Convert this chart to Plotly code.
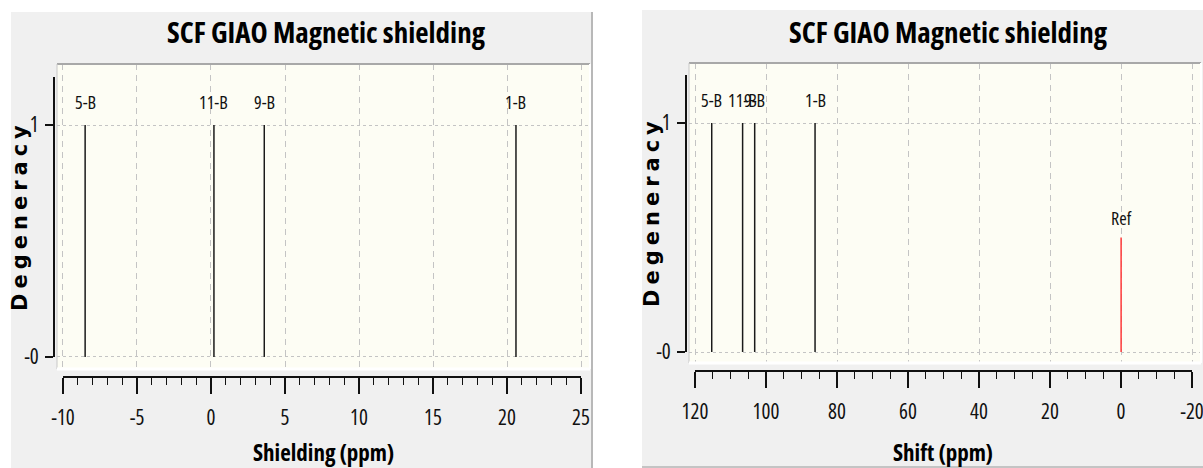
import plotly.graph_objects as go

# Figure size in pixels
W, H = 1203, 468

# Computed boron peaks
peak_labels = ["5-B", "11-B", "9-B", "1-B"]
shielding_ppm = [-8.5, 0.2, 3.6, 20.6]
shift_ppm = [115.3, 106.6, 103.2, 86.2]
degeneracy = [1, 1, 1, 1]

# Reference marker on the shift scale
ref_label = "Ref"
ref_shift_ppm = [0.0]
ref_height = [0.5]

# Axis ticks and labels
shield_ticks = [-10, -5, 0, 5, 10, 15, 20, 25]
shield_tick_labels = ["-10", "-5", "0", "5", "10", "15", "20", "25"]
shift_ticks = [120, 100, 80, 60, 40, 20, 0, -20]
shift_tick_labels = ["120", "100", "80", "60", "40", "20", "0", "-20"]
y_ticks = [0, 1]
y_tick_labels = ["-0", "1"]

FAM = "Open Sans"
WIDE_BOLD = "DejaVu Sans, Verdana, sans-serif"
INK = "#111111"
GRID = "#c4c4c4"
CREAM = "#fdfdf4"
PANEL = "#f0f0f0"


def narrow(text):
    return f'<span style="font-stretch:75%">{text}</span>'


def fx(px):
    return px / W


def fy(py):
    return 1 - py / H


def stems(xvals, heights):
    xs, ys = [], []
    for v, h in zip(xvals, heights):
        xs += [v, v, None]
        ys += [0, h, None]
    return xs, ys


fig = go.Figure()

# Left spectrum: shielding
sx, sy = stems(shielding_ppm, degeneracy)
fig.add_trace(go.Scatter(x=sx, y=sy, mode="lines", xaxis="x", yaxis="y",
                         line=dict(color="#1a1a1a", width=1.5),
                         hoverinfo="skip", showlegend=False))
# empty trace so the left ruler axes are drawn
fig.add_trace(go.Scatter(x=[], y=[], xaxis="x2", yaxis="y2", showlegend=False))

# Right spectrum: shift
tx, ty = stems(shift_ppm, degeneracy)
fig.add_trace(go.Scatter(x=tx, y=ty, mode="lines", xaxis="x3", yaxis="y3",
                         line=dict(color="#1a1a1a", width=1.5),
                         hoverinfo="skip", showlegend=False))
rx, ry = stems(ref_shift_ppm, ref_height)
fig.add_trace(go.Scatter(x=rx, y=ry, mode="lines", xaxis="x3", yaxis="y3",
                         line=dict(color="#ff3b3b", width=1.5),
                         hoverinfo="skip", showlegend=False))
fig.add_trace(go.Scatter(x=[], y=[], xaxis="x4", yaxis="y4", showlegend=False))

grid_x = dict(showgrid=True, gridcolor=GRID, gridwidth=1, griddash="6px,5px",
              showticklabels=False, ticks="", zeroline=False, showline=False)
grid_y = dict(showgrid=True, gridcolor=GRID, gridwidth=1, griddash="3px,3px",
              tickvals=y_ticks, showticklabels=False, ticks="",
              zeroline=False, showline=False)
tickfont = dict(family=FAM, size=21, color=INK)


def ruler_x(domain, rng, pos, vals, labels, minor_dtick):
    return dict(domain=domain, range=rng, anchor="free", position=pos,
                showgrid=False, zeroline=False, showline=True, linecolor="#111",
                linewidth=2, ticks="outside", ticklen=16, tickwidth=1.6,
                tickcolor="#111", tickvals=vals, automargin=False,
                ticktext=[narrow(t) for t in labels], ticklabeloverflow="allow",
                tickfont=tickfont, ticklabelstandoff=6,
                minor=dict(dtick=minor_dtick, tick0=0, ticks="outside",
                           ticklen=7, tickwidth=1.3, tickcolor="#111",
                           showgrid=False))


def ruler_y(domain, rng, pos):
    return dict(domain=domain, range=rng, anchor="free", position=pos,
                showgrid=False, zeroline=False, showline=True, linecolor="#111",
                linewidth=2, ticks="outside", ticklen=8, tickwidth=1.6,
                tickcolor="#111", tickvals=y_ticks, automargin=False,
                ticktext=[narrow(t) for t in y_tick_labels], ticklabeloverflow="allow",
                tickfont=tickfont, ticklabelstandoff=2)


fig.update_layout(
    width=W, height=H,
    margin=dict(l=0, r=0, t=0, b=0, pad=0, autoexpand=False),
    paper_bgcolor="white",
    plot_bgcolor="rgba(0,0,0,0)",
    showlegend=False,
    xaxis=dict(domain=[fx(57), fx(590)], range=[-10.4, 25.6], tickvals=shield_ticks,
               anchor="y", automargin=False, **grid_x),
    yaxis=dict(domain=[fy(369), fy(64)], range=[-0.052, 1.263], anchor="x",
               automargin=False, **grid_y),
    xaxis2=ruler_x([fx(63), fx(581)], [-10, 25], fy(377), shield_ticks,
                   shield_tick_labels, 1),
    yaxis2=ruler_y([fy(357), fy(77)], [0, 1.207], fx(54)),
    xaxis3=dict(domain=[fx(689), fx(1201)], range=[121.7, -22.5], tickvals=shift_ticks,
                anchor="y3", automargin=False, **grid_x),
    yaxis3=dict(domain=[fy(363), fy(63)], range=[-0.048, 1.262], anchor="x3",
                automargin=False, **grid_y),
    xaxis4=ruler_x([fx(695), fx(1192)], [120, -20], fy(371), shift_ticks,
                   shift_tick_labels, 5),
    yaxis4=ruler_y([fy(352), fy(75)], [0, 1.21], fx(686)),
)

shapes = [
    # window panels
    dict(type="rect", xref="paper", yref="paper", x0=fx(11), x1=fx(592), y0=0,
         y1=fy(12), fillcolor=PANEL, line=dict(width=0), layer="below"),
    dict(type="rect", xref="paper", yref="paper", x0=fx(642), x1=1, y0=0,
         y1=fy(10), fillcolor=PANEL, line=dict(width=0), layer="below"),
    dict(type="line", xref="paper", yref="paper", x0=fx(592), x1=fx(592), y0=0,
         y1=fy(12), line=dict(color="#b8b8b8", width=2), layer="below"),
    dict(type="line", xref="paper", yref="paper", x0=fx(642), x1=1, y0=fy(467),
         y1=fy(467), line=dict(color="#c4c4c4", width=2), layer="below"),
]
for xa, ya in (("x", "y"), ("x3", "y3")):
    xd, yd = xa + " domain", ya + " domain"
    shapes += [
        dict(type="rect", xref=xd, yref=yd, x0=0, x1=1, y0=0, y1=1,
             fillcolor=CREAM, line=dict(width=0), layer="below"),
        dict(type="line", xref=xd, yref=yd, x0=0, x1=1, y0=1, y1=1,
             line=dict(color="#a8a8a8", width=2), layer="above"),
        dict(type="line", xref=xd, yref=yd, x0=0, x1=0, y0=0, y1=1,
             line=dict(color="#c8c8c8", width=1), layer="above"),
        dict(type="line", xref=xd, yref=yd, x0=0, x1=1, y0=0, y1=0,
             line=dict(color="#ffffff", width=3), layer="above"),
        dict(type="line", xref=xd, yref=yd, x0=1, x1=1, y0=0, y1=1,
             line=dict(color="#ffffff", width=2), layer="above"),
    ]
fig.update_layout(shapes=shapes)

label_font = dict(family=FAM, size=18, color=INK)
annotations = []
# peak names
for name, s, t, d in zip(peak_labels, shielding_ppm, shift_ppm, degeneracy):
    annotations.append(dict(x=s, y=d, xref="x", yref="y", text=narrow(name),
                            showarrow=False, yshift=23, font=label_font))
    annotations.append(dict(x=t, y=d, xref="x3", yref="y3", text=narrow(name),
                            showarrow=False, yshift=23, font=label_font))
annotations.append(dict(x=ref_shift_ppm[0], y=ref_height[0], xref="x3", yref="y3",
                        text=narrow(ref_label), showarrow=False, yshift=20,
                        font=label_font))

ylab = '<span style="letter-spacing:5px">Degeneracy</span>'
ylab_font = dict(family=WIDE_BOLD, size=21, color="#000000", weight="bold")
for cx, cxt, ylx, yly, xtitle in ((326, 323, 20, 216, "Shielding (ppm)"),
                                  (948, 943, 652, 212, "Shift (ppm)")):
    annotations.append(dict(x=fx(cx), y=fy(32), xref="paper", yref="paper",
                            text=narrow("SCF GIAO Magnetic shielding"),
                            showarrow=False, xanchor="center", yanchor="middle",
                            font=dict(family=FAM, size=29, color="#000", weight="bold")))
    annotations.append(dict(x=fx(cxt), y=fy(452), xref="paper", yref="paper",
                            text=narrow(xtitle), showarrow=False,
                            xanchor="center", yanchor="middle",
                            font=dict(family=FAM, size=23, color="#000", weight="bold")))
    annotations.append(dict(x=fx(ylx), y=fy(yly), xref="paper", yref="paper",
                            text=ylab, showarrow=False, textangle=-90,
                            xanchor="center", yanchor="middle", font=ylab_font))
fig.update_layout(annotations=annotations)

fig.write_html("out.html")
